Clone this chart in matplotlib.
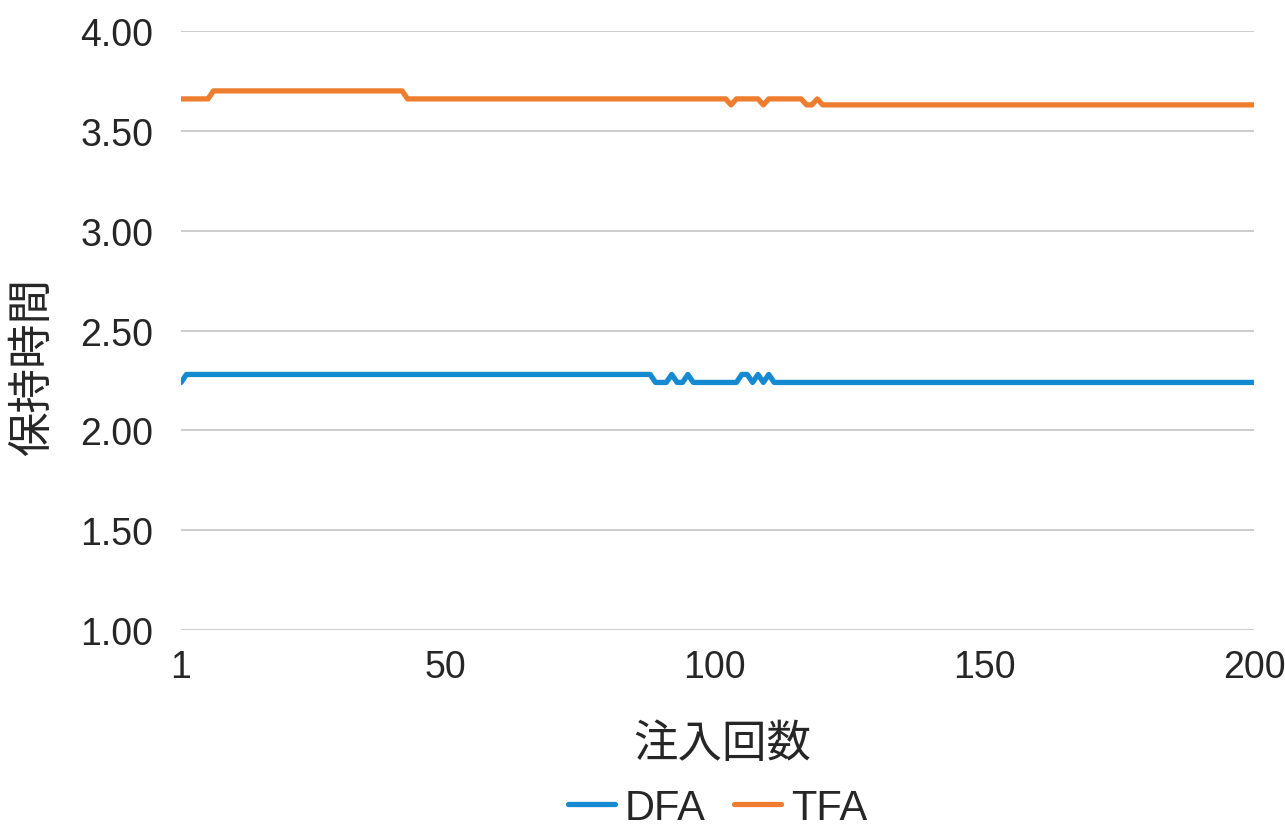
import numpy as np
import matplotlib
matplotlib.use("Agg")
import matplotlib.pyplot as plt

plt.rcParams['font.family'] = ['Liberation Sans', 'Noto Sans CJK JP', 'DejaVu Sans']

# injection number 1..200
injection = np.arange(1, 201)

# retention time levels (min) and the injections where each series changes
dfa_levels = [2.24, 2.28]
dfa_high_runs = [(2, 88), (92, 92), (95, 95), (105, 106), (108, 108), (110, 110)]
tfa_levels = [3.63, 3.66, 3.70]
tfa_runs = [(1, 6, 3.66), (7, 42, 3.70), (43, 102, 3.66), (103, 103, 3.63),
            (104, 108, 3.66), (109, 109, 3.63), (110, 116, 3.66), (117, 118, 3.63),
            (119, 119, 3.66), (120, 200, 3.63)]

dfa = np.full(injection.size, dfa_levels[0])
for a, b in dfa_high_runs:
    dfa[(injection >= a) & (injection <= b)] = dfa_levels[1]
tfa = np.zeros(injection.size)
for a, b, v in tfa_runs:
    tfa[(injection >= a) & (injection <= b)] = v

fig = plt.figure(figsize=(12.85, 8.29), dpi=100)
ax = fig.add_axes([0.1409, 0.2388, 0.835, 0.7226])

ax.plot(injection, dfa, color='#168AD0', lw=3.8, solid_capstyle='round',
        solid_joinstyle='round', label='DFA')
ax.plot(injection, tfa, color='#EE7D2F', lw=3.8, solid_capstyle='round',
        solid_joinstyle='round', label='TFA')

ax.set_xlim(1, 200)
ax.set_ylim(1.0, 4.0)
ax.set_xticks([1, 50, 100, 150, 200])
ax.set_yticks(np.arange(1.0, 4.01, 0.5))
ax.yaxis.set_major_formatter(matplotlib.ticker.FormatStrFormatter('%.2f'))
ax.grid(axis='y', color='#BFBFBF', lw=1.1)
ax.set_axisbelow(True)
for s in ax.spines.values():
    s.set_visible(False)
ax.tick_params(length=0, labelsize=27, colors='#262626')
ax.tick_params(axis='y', pad=20)
ax.tick_params(axis='x', pad=14)

ax.set_xlabel('注入回数', fontsize=32, color='#262626')
ax.set_ylabel('保持時間', fontsize=32, color='#262626')
ax.xaxis.set_label_coords(0.504, -0.155)
ax.yaxis.set_label_coords(-0.118, 0.442)

ax.legend(loc='center', bbox_to_anchor=(0.5, -0.297), ncol=2, frameon=False,
          fontsize=30, handlelength=1.13, handletextpad=0.24, columnspacing=0.67,
          labelcolor='#262626', borderpad=0)

fig.savefig('out.png', dpi=100)
